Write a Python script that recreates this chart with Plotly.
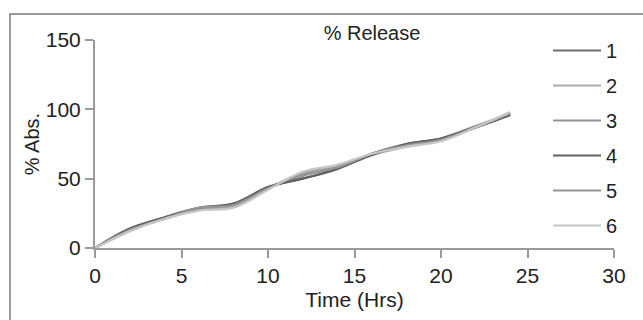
import plotly.graph_objects as go

time_hrs = [0, 2, 4, 6, 8, 10, 12, 14, 16, 18, 20, 22, 24]
series_names = ["1", "2", "3", "4", "5", "6"]
s1 = [0, 13, 21, 28, 31, 44, 50, 57, 68, 75, 79, 87, 96]
s2 = [0, 12, 22, 29, 30, 43, 54, 59, 67, 73, 78, 87, 97.5]
s3 = [0, 13, 22, 28, 32, 43, 52, 58, 68, 74, 79, 88, 97]
s4 = [0, 14, 22, 29, 32, 44, 50, 57, 67, 75, 79, 87, 96]
s5 = [0, 13, 21, 29, 31, 43, 53, 58, 68, 74, 78, 87, 97]
s6 = [0, 12, 21, 27, 29, 42, 55, 60, 68, 73, 77, 87, 98]
series_values = [s1, s2, s3, s4, s5, s6]
colors = ["#6f6f6f", "#ababab", "#939393", "#606060", "#959595", "#c6c6c6"]

W, H = 643, 320
ml, mr, mt, mb = 95, 29, 40, 72
pw = W - ml - mr
ph = H - mt - mb

fig = go.Figure()
for name, vals, c in zip(series_names, series_values, colors):
    fig.add_trace(go.Scatter(
        x=time_hrs, y=vals, name=name, mode="lines",
        line=dict(color=c, width=2.2, shape="spline", smoothing=1.0),
        legendgroup=name,
    ))

font = "Liberation Sans, Arial, sans-serif"
axis_common = dict(
    showgrid=False, zeroline=False, showline=True, linecolor="#9a9a9a", linewidth=2,
    ticks="outside", ticklen=8, tickwidth=2, tickcolor="#9a9a9a",
    tickfont=dict(family=font, size=21, color="#222"),
)

fig.update_layout(
    width=W, height=H,
    margin=dict(l=ml, r=mr, t=mt, b=mb),
    paper_bgcolor="white", plot_bgcolor="white",
    font=dict(family=font, size=20, color="#222"),
    title=dict(text="% Release", x=372 / W, xanchor="center", y=1 - 33 / H, yanchor="middle",
               font=dict(family=font, size=20, color="#222")),
    xaxis=dict(range=[0, 30], tickvals=[0, 5, 10, 15, 20, 25, 30],
               title=dict(text="Time (Hrs)", standoff=6,
                          font=dict(family=font, size=21, color="#222")),
               **axis_common),
    yaxis=dict(range=[0, 150], tickvals=[0, 50, 100, 150],
               title=dict(text="% Abs.", standoff=1,
                          font=dict(family=font, size=20, color="#222")),
               **axis_common),
    legend=dict(x=(548 - ml) / pw, xanchor="left", y=1 - (31 - mt) / ph, yanchor="top",
                bgcolor="rgba(0,0,0,0)", tracegroupgap=6, itemwidth=48, maxheight=300,
                font=dict(family=font, size=20, color="#222")),
    shapes=[dict(type="rect", xref="paper", yref="paper",
                 x0=(10 - ml) / pw, x1=(W + 20 - ml) / pw,
                 y0=-(H + 20 - mt - ph) / ph, y1=1 + (mt - 14) / ph,
                 line=dict(color="#7a7a7a", width=1.5), layer="below")],
)

fig.write_html("out.html")
